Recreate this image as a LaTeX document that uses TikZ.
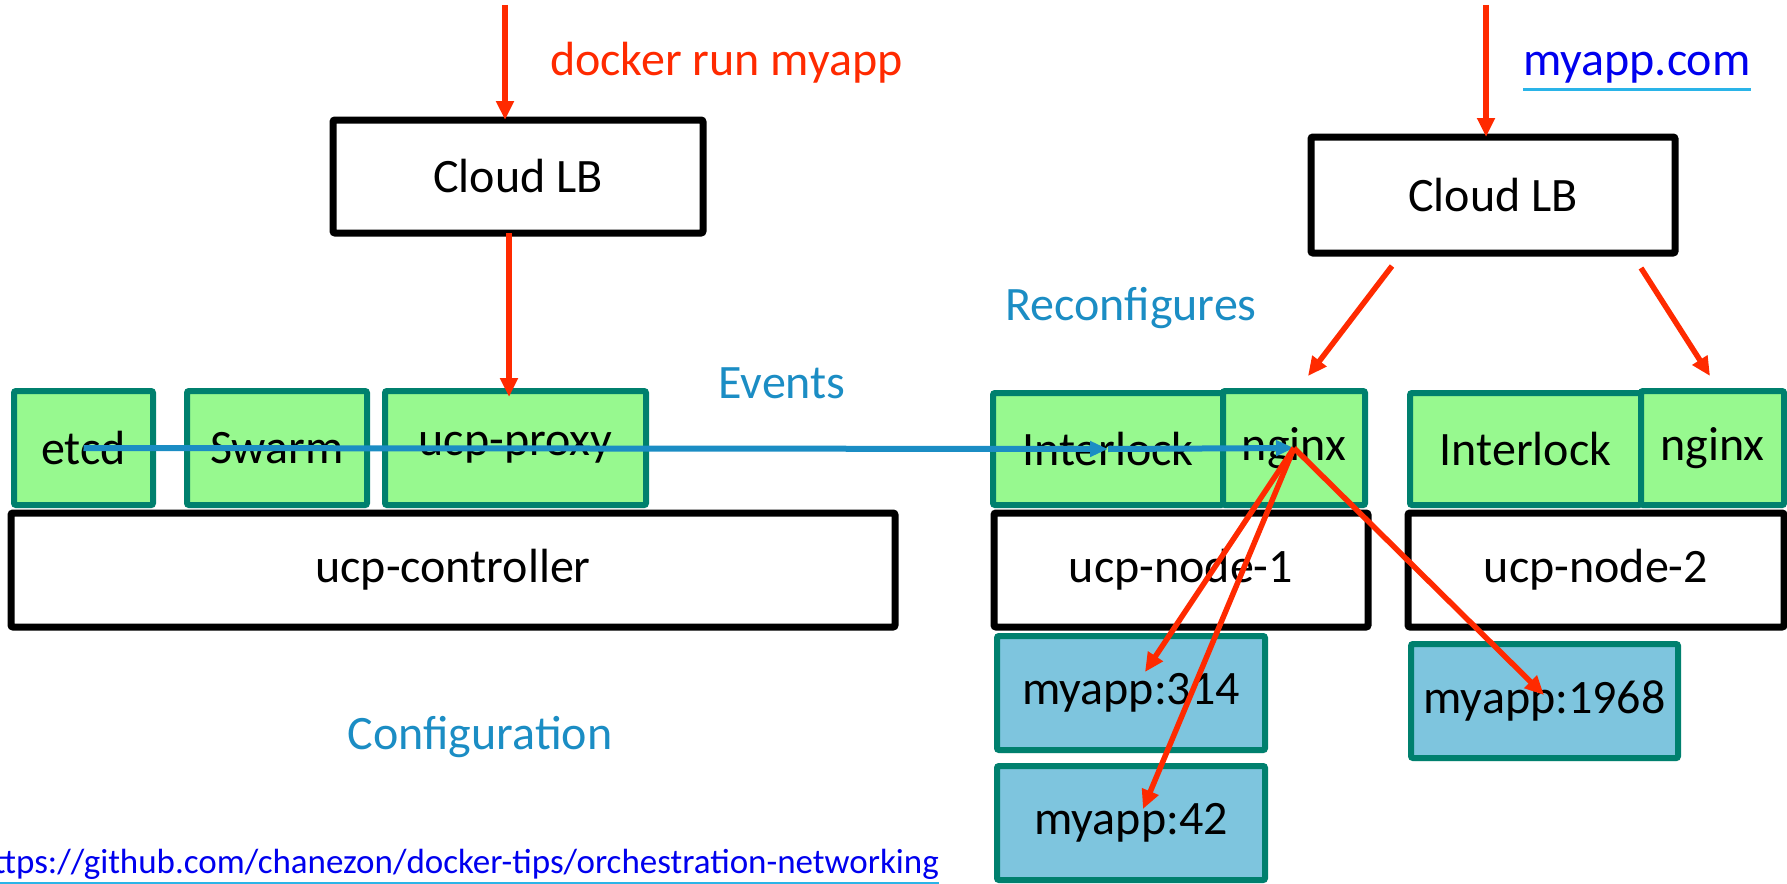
\documentclass[tikz,border=0pt]{standalone}
\usepackage{fontspec}
\setmainfont{Carlito}
\usetikzlibrary{arrows.meta,shadows}
\definecolor{lbgreen}{HTML}{97F98F}
\definecolor{tealb}{HTML}{00806E}
\definecolor{appblue}{HTML}{7EC5DE}
\definecolor{evblue}{HTML}{1B8DC4}
\definecolor{redarr}{HTML}{FF2A00}
\definecolor{linkblue}{HTML}{0000EE}
\definecolor{ulblue}{HTML}{2AB4E8}
\begin{document}
\begin{tikzpicture}[x=1pt,y=-1pt,
  every node/.style={font=\fontsize{48}{54}\selectfont, inner sep=0pt, outer sep=0pt},
  shd/.style={drop shadow={opacity=0.25,shadow xshift=2pt,shadow yshift=-3pt}},
  bbox/.style={draw=black, line width=7pt, fill=white, rounded corners=2pt, anchor=north west, shd},
  gbox/.style={draw=tealb, line width=6pt, fill=lbgreen, rounded corners=2pt, anchor=north west, shd},
  abox/.style={draw=tealb, line width=6pt, fill=appblue, rounded corners=2pt, anchor=north west, shd},
  redline/.style={draw=redarr, line width=5.5pt, -{Triangle[length=19pt,width=17pt]}},
  blueline/.style={draw=evblue, line width=6pt, -{Triangle[length=18pt,width=15pt]}},
  lbl/.style={text=evblue}
]
\useasboundingbox (0,0) rectangle (1787,883);

% left column
\node[bbox, minimum width=370pt, minimum height=113pt] (lb1) at (333,120) {Cloud LB};
\node[gbox, minimum width=139pt, minimum height=114pt] (etcd) at (14,391) {etcd};
\node[gbox, minimum width=180pt, minimum height=114pt] (swarm) at (187,391) {Swarm};
\node[gbox, minimum width=261pt, minimum height=114pt] (proxy) at (385,391) {ucp-proxy};
\node[bbox, minimum width=884pt, minimum height=114pt] (ctrl) at (11,513) {ucp-controller};

% right column
\node[bbox, minimum width=364pt, minimum height=116pt] (lb2) at (1311,137) {Cloud LB};
\node[gbox, minimum width=230pt, minimum height=112pt] (il1) at (993,393) {Interlock};
\node[gbox, minimum width=142pt, minimum height=114pt] (ng1) at (1223,391) {nginx};
\node[gbox, minimum width=231pt, minimum height=112pt] (il2) at (1410,393) {Interlock};
\node[gbox, minimum width=143pt, minimum height=114pt] (ng2) at (1641,391) {nginx};
\node[bbox, minimum width=374pt, minimum height=114pt] (n1) at (994,513) {ucp-node-1};
\node[bbox, minimum width=376pt, minimum height=114pt] (n2) at (1408,513) {ucp-node-2};
\node[abox, minimum width=268pt, minimum height=114pt] (m314) at (997,636) {myapp:314};
\node[abox, minimum width=268pt, minimum height=114pt] (m42) at (997,766) {myapp:42};
\node[abox, minimum width=267pt, minimum height=114pt] (m1968) at (1411,644) {myapp:1968};

% texts
\node[anchor=base west, text=redarr] (cmd) at (550,75) {docker run myapp};
\node[anchor=base west, text=linkblue] (url1) at (1523,75) {myapp.com};
\draw[ulblue, line width=3.5pt] (url1.south west) ++(0,7) coordinate (u1a) -- (u1a -| url1.south east);
\node[lbl] (reconf) at (1131,308) {Reconfigures};
\node[lbl] (events) at (782,383) {Events};
\node[lbl] (config) at (480,737) {Configuration};
\node[anchor=base east, text=linkblue, font=\fontsize{35}{40}\selectfont] (url2) at (939,873) {https://github.com/chanezon/docker-tips/orchestration-networking};
\draw[ulblue, line width=3.5pt] (url2.south west) ++(0,5) coordinate (u2a) -- (u2a -| url2.south east);

% red arrows
\coordinate (in1) at (505,5);
\draw[redline] (in1) -- (in1 |- lb1.north);
\coordinate (a2) at (509,0);
\draw[redline] (a2 |- lb1.south) -- ([yshift=-6pt]a2 |- proxy.north);
\coordinate (in2) at (1486,5);
\draw[redline] (in2) -- (in2 |- lb2.north);
\coordinate (lbo1) at (1392,266);
\coordinate (lbo2) at (1641,268);
\coordinate (t1) at (1308,376);
\coordinate (t2) at (1710,376);
\draw[redline] (lbo1) -- (t1);
\draw[redline] (lbo2) -- (t2);

% events line
\draw[blueline] (etcd.center) -- (il1.center);
\draw[blueline] (il1.center) -- (ng1.center);

% nginx to apps
\coordinate (d314) at (1145,672);
\coordinate (d42) at (1143,809);
\coordinate (d1968) at (1544,695);
\draw[redline] (ng1.center) -- (d314);
\draw[redline] (ng1.center) -- (d42);
\draw[redline] (ng1.center) -- (d1968);
\end{tikzpicture}
\end{document}
